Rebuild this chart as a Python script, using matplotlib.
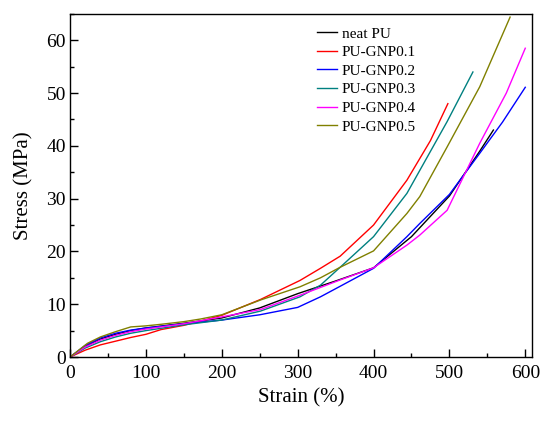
import matplotlib
matplotlib.use('Agg')
import matplotlib.pyplot as plt
from matplotlib.ticker import MultipleLocator

plt.rcParams['font.family'] = ['Liberation Serif', 'DejaVu Serif']

# strain (%) / stress (MPa)
neat_x = [0, 20, 40, 60, 80, 100, 150, 200, 250, 300, 350, 400, 450, 500, 540, 558]
neat_y = [0, 2.0, 3.4, 4.3, 5.0, 5.5, 6.4, 7.4, 9.3, 12.0, 14.4, 16.9, 22.8, 30.5, 39.0, 43.0]

gnp01_x = [0, 20, 40, 60, 80, 100, 120, 150, 172, 200, 251, 303, 330, 356, 400, 444, 475, 498]
gnp01_y = [0, 1.3, 2.3, 3.0, 3.7, 4.3, 5.2, 6.0, 6.8, 7.9, 10.9, 14.5, 16.8, 19.1, 25.0, 33.5, 41.0, 48.0]

gnp02_x = [0, 20, 40, 60, 80, 100, 150, 200, 250, 300, 330, 356, 400, 444, 461, 500, 540, 570, 600]
gnp02_y = [0, 2.2, 3.6, 4.5, 5.1, 5.5, 6.3, 7.0, 8.0, 9.4, 11.4, 13.4, 16.8, 22.8, 25.3, 30.8, 38.6, 44.5, 51.1]

gnp03_x = [0, 20, 40, 60, 80, 100, 150, 200, 251, 303, 330, 356, 400, 444, 497, 531]
gnp03_y = [0, 1.7, 2.9, 3.8, 4.5, 5.0, 6.1, 7.0, 8.7, 11.4, 13.6, 17.0, 22.8, 31.0, 44.6, 54.0]

gnp04_x = [0, 20, 40, 60, 80, 100, 150, 200, 251, 303, 356, 400, 444, 461, 497, 540, 575, 600]
gnp04_y = [0, 1.9, 3.2, 4.1, 4.8, 5.3, 6.3, 7.6, 9.0, 11.7, 14.6, 16.9, 21.2, 23.1, 27.8, 40.5, 50.0, 58.5]

gnp05_x = [0, 23, 40, 60, 80, 100, 120, 150, 172, 200, 251, 303, 330, 356, 400, 444, 461, 497, 540, 580]
gnp05_y = [0, 2.6, 3.8, 4.8, 5.7, 5.9, 6.2, 6.7, 7.2, 8.0, 10.8, 13.3, 15.0, 17.0, 20.1, 27.2, 30.4, 39.8, 51.2, 64.4]

fig = plt.figure(figsize=(5.56, 4.22), dpi=100)
ax = fig.add_axes([0.126, 0.154, 0.831, 0.813])

ax.plot(neat_x, neat_y, color='black', lw=1.0, label='neat PU')
ax.plot(gnp01_x, gnp01_y, color='#FF0000', lw=1.0, label='PU-GNP0.1')
ax.plot(gnp02_x, gnp02_y, color='#0000FF', lw=1.0, label='PU-GNP0.2')
ax.plot(gnp03_x, gnp03_y, color='#008080', lw=1.0, label='PU-GNP0.3')
ax.plot(gnp04_x, gnp04_y, color='#FF00FF', lw=1.0, label='PU-GNP0.4')
ax.plot(gnp05_x, gnp05_y, color='#808000', lw=1.0, label='PU-GNP0.5')

ax.set_xlim(0, 609)
ax.set_ylim(0, 65)
ax.xaxis.set_major_locator(MultipleLocator(100))
ax.xaxis.set_minor_locator(MultipleLocator(50))
ax.yaxis.set_major_locator(MultipleLocator(10))
ax.yaxis.set_minor_locator(MultipleLocator(5))
ax.tick_params(which='both', direction='in', top=False, right=False, labelsize=14)
ax.tick_params(which='major', length=6, width=1, pad=3)
ax.tick_params(axis='x', which='major', pad=6)
ax.tick_params(which='minor', length=3, width=1)
for s in ax.spines.values():
    s.set_linewidth(1)

ax.set_xlabel('Strain (%)', fontsize=15, labelpad=4)
ax.set_ylabel('Stress (MPa)', fontsize=15, labelpad=9)

ax.legend(loc='upper left', bbox_to_anchor=(0.535, 0.962), frameon=False,
          fontsize=11, handlelength=1.3, handletextpad=0.3, labelspacing=0.32,
          borderpad=0, borderaxespad=0)

fig.savefig('out.png', dpi=100)
